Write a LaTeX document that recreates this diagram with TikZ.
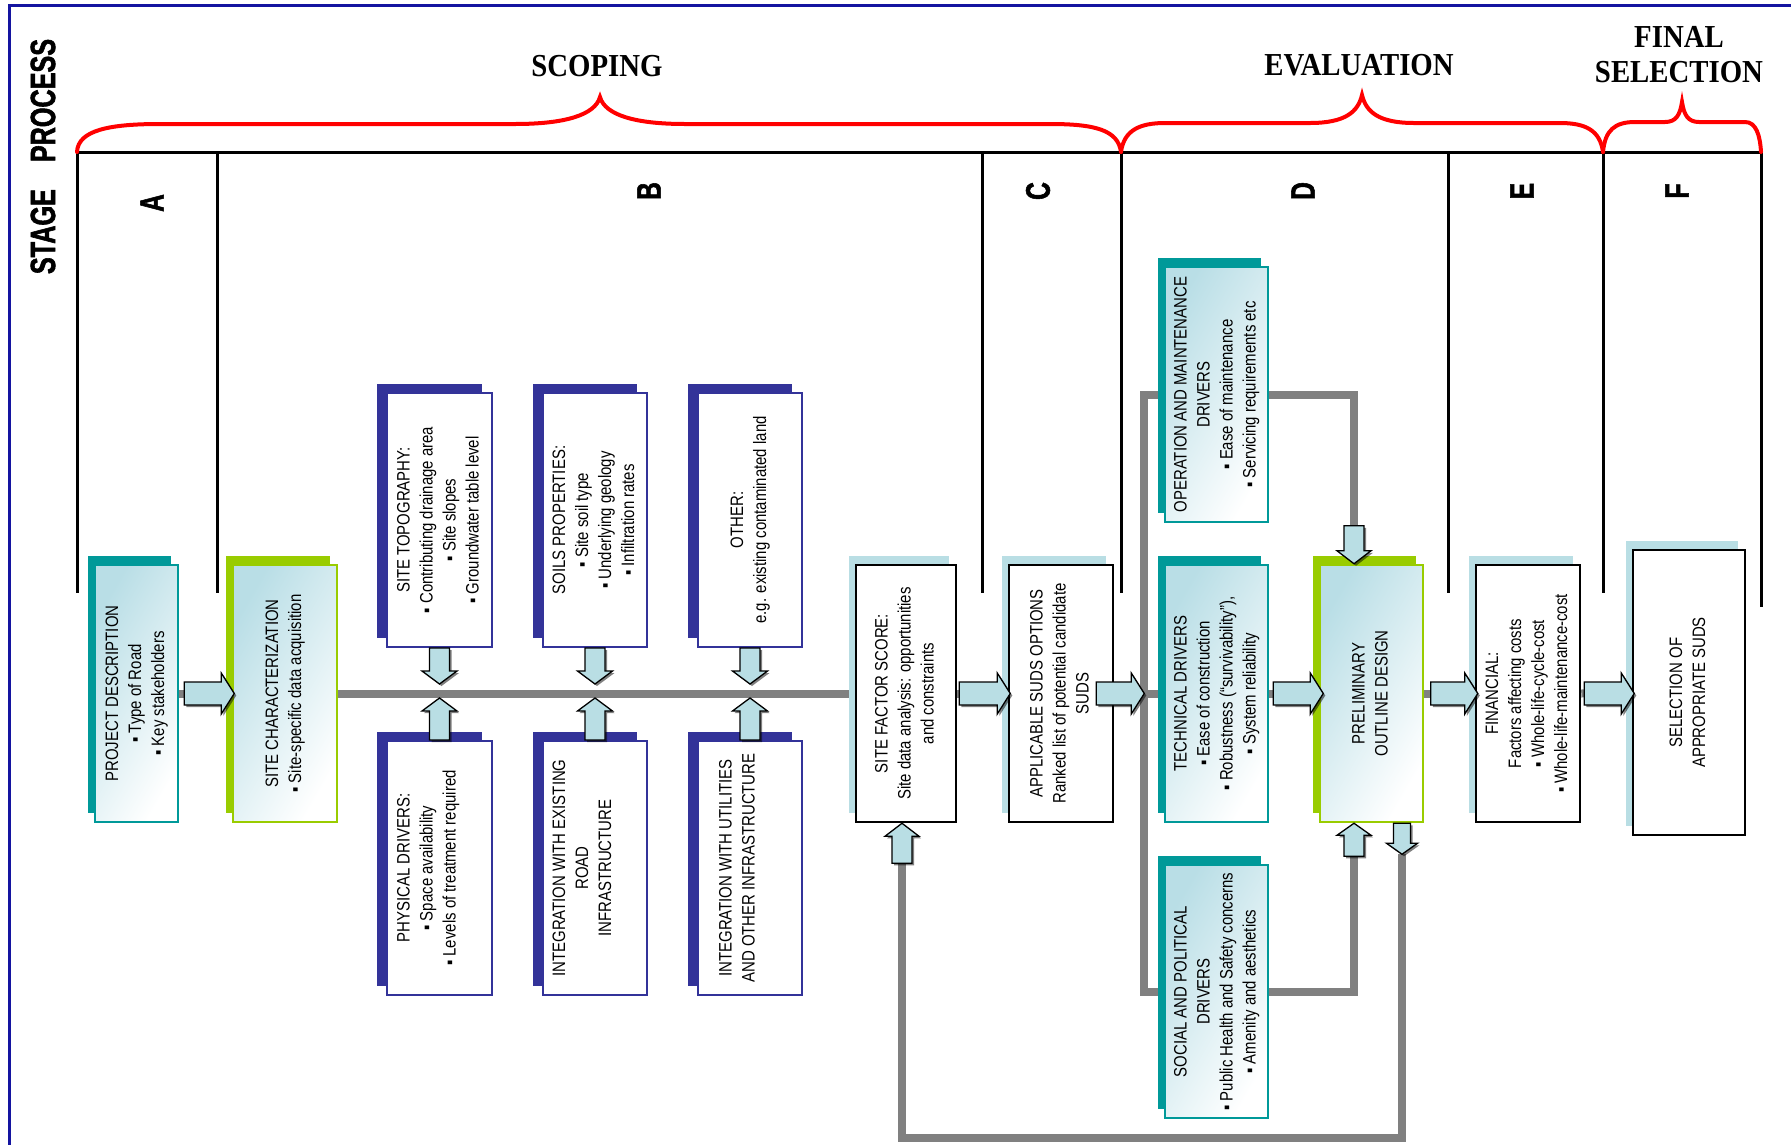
\documentclass[tikz,border=0pt]{standalone}
\usepackage{fontspec}
\usepackage{graphicx}
\usetikzlibrary{shadows,backgrounds,calc}
\newfontfamily\boxfont[FakeStretch=0.83]{Liberation Sans}
\newfontfamily\headfont[FakeStretch=0.72,FakeBold=1.6]{Liberation Sans}
\newfontfamily\titlefont[FakeStretch=0.9]{Liberation Serif}
\definecolor{tealc}{RGB}{0,153,153}
\definecolor{greenc}{RGB}{153,204,0}
\definecolor{bluec}{RGB}{51,51,153}
\definecolor{lightc}{RGB}{185,222,228}
\definecolor{gradc}{RGB}{185,222,230}
\definecolor{grayc}{RGB}{128,128,128}
\definecolor{framec}{RGB}{20,20,160}
\definecolor{redc}{RGB}{255,0,0}
\newcommand\rottext[1]{\rotatebox{90}{\begin{tabular}{@{}c@{}}#1\end{tabular}}}
\begin{document}
\begin{tikzpicture}[x=1pt,y=-1pt,
  box/.style={inner sep=0pt, font=\boxfont\fontsize{18}{23}\selectfont, text=black},
  boxT/.style={box, draw=tealc, line width=2.5pt, top color=gradc, bottom color=white, shading angle=60,
    general shadow={fill=tealc, shadow xshift=-7pt, shadow yshift=9pt}},
  boxG/.style={box, draw=greenc, line width=2.5pt, top color=gradc, bottom color=white, shading angle=60,
    general shadow={fill=greenc, shadow xshift=-7pt, shadow yshift=9pt}},
  boxU/.style={box, draw=bluec, line width=2pt, fill=white,
    general shadow={fill=bluec, shadow xshift=-10pt, shadow yshift=9pt}},
  boxL/.style={box, draw=black, line width=2.5pt, fill=white,
    general shadow={fill=lightc, shadow xshift=-7pt, shadow yshift=9pt}},
  conn/.style={draw=grayc, line width=8pt},
  fatsty/.style={fill=lightc, draw=black, line width=1.3pt,
    drop shadow={shadow xshift=2pt, shadow yshift=-2pt, fill=black, opacity=0.5}},
  tableline/.style={line width=3pt, draw=black},
  bracesty/.style={draw=redc, line width=4pt, line cap=round},
  title/.style={font=\titlefont\bfseries\fontsize{32}{35}\selectfont, align=center, inner sep=0pt},
  colletter/.style={font=\headfont\bfseries\fontsize{34}{34}\selectfont, rotate=90, inner sep=0pt},
  stagesty/.style={font=\headfont\bfseries\fontsize{35}{35}\selectfont, rotate=90, inner sep=0pt},
  pics/fatarr/.style n args={4}{code={%
    \path[fatsty] (0,-#2) -- ({#1-#4},-#2) -- ({#1-#4},-#3) -- (#1,0) -- ({#1-#4},#3) -- ({#1-#4},#2) -- (0,#2) -- cycle;}}
]
\useasboundingbox (0,0) rectangle (1791,1144);
% frame
\draw[framec, line width=3pt] (9,1150) -- (9,5) -- (1800,5);
% table
\draw[tableline] (77,152) -- (1761,152);
\foreach \x in {77,217,982,1121,1448,1603} \draw[tableline] (\x,152) -- (\x,593);
\draw[tableline] (1761,152) -- (1761,607);
% braces
\draw[bracesty] (77,152) .. controls (78,130) and (110,124) .. (160,124) -- (515,124) .. controls (565,124) and (595,115) .. (600,97) .. controls (605,115) and (635,124) .. (685,124) -- (1050,124) .. controls (1095,124) and (1118,130) .. (1121,152);
\draw[bracesty] (1121,152) .. controls (1124,130) and (1140,123) .. (1165,123) -- (1310,123) .. controls (1345,123) and (1358,112) .. (1362,95) .. controls (1366,112) and (1379,123) .. (1414,123) -- (1560,123) .. controls (1585,123) and (1600,130) .. (1603,152);
\draw[bracesty] (1603,152) .. controls (1605,130) and (1615,122) .. (1635,122) -- (1665,122) .. controls (1676,122) and (1680,115) .. (1682,102) .. controls (1684,115) and (1688,122) .. (1699,122) -- (1745,122) .. controls (1756,122) and (1760,135) .. (1761,152);
% titles
\node[title] (scoping) at (597,66) {SCOPING};
\node[title] (evaluation) at (1359,65.5) {EVALUATION};
\node[title] (finalsel) at (1679,54.5) {FINAL\\SELECTION};
\node[stagesty] (stage) at (43,156.5) {STAGE\hspace{27pt}PROCESS};
\node[colletter] (lA) at (152,203) {A};
\node[colletter] (lB) at (649,191) {B};
\node[colletter] (lC) at (1038,191) {C};
\node[colletter] (lD) at (1303,191) {D};
\node[colletter] (lE) at (1522,191) {E};
\node[colletter] (lF) at (1677,191) {F};
% boxes
\node[boxT, minimum width=83, minimum height=257] (A) at (136.5,693.5)
  {\rottext{PROJECT DESCRIPTION\\▪ Type of Road\\▪ Key stakeholders}};
\node[boxG, minimum width=104, minimum height=257] (B1) at (285,693.5)
  {\rottext{SITE CHARACTERIZATION\\▪ Site-specific data acquisition}};
\node[boxU, minimum width=105, minimum height=254] (TOPO) at (439.5,520)
  {\rottext{SITE TOPOGRAPHY:\\▪ Contributing drainage area\\▪ Site slopes\\▪ Groundwater table level}};
\node[boxU, minimum width=104, minimum height=254] (SOILS) at (595,520)
  {\rottext{SOILS PROPERTIES:\\▪ Site soil type\\▪ Underlying geology\\▪ Infiltration rates}};
\node[boxU, minimum width=104, minimum height=254] (OTHER) at (750,520)
  {\rottext{OTHER:\\e.g. existing contaminated land}};
\node[boxU, minimum width=105, minimum height=254] (PHYS) at (439.5,868)
  {\rottext{PHYSICAL DRIVERS:\\▪ Space availability\\▪ Levels of treatment required\\~}};
\node[boxU, minimum width=104, minimum height=254] (INTROAD) at (595,868)
  {\rottext{INTEGRATION WITH EXISTING\\ROAD\\INFRASTRUCTURE\\~}};
\node[boxU, minimum width=104, minimum height=254] (INTUTIL) at (750,868)
  {\rottext{INTEGRATION WITH UTILITIES\\AND OTHER INFRASTRUCTURE\\~}};
\node[boxL, minimum width=100, minimum height=257] (SFS) at (906,693.5)
  {\rottext{SITE FACTOR SCORE:\\Site data analysis: opportunities\\and constraints}};
\node[boxL, minimum width=104, minimum height=257] (APP) at (1061,693.5)
  {\rottext{APPLICABLE SUDS OPTIONS\\Ranked list of potential candidate\\SUDS}};
\node[boxT, minimum width=103, minimum height=255] (OPER) at (1216.5,394.5)
  {\rottext{OPERATION AND MAINTENANCE\\DRIVERS\\▪ Ease of maintenance\\▪ Servicing requirements etc}};
\node[boxT, minimum width=103, minimum height=257] (TECH) at (1216.5,693.5)
  {\rottext{TECHNICAL DRIVERS\\▪ Ease of construction\\▪ Robustness (“survivability”),\\▪ System reliability}};
\node[boxT, minimum width=103, minimum height=253] (SOCIAL) at (1216.5,991.5)
  {\rottext{SOCIAL AND POLITICAL\\DRIVERS\\▪ Public Health and Safety concerns\\▪ Amenity and aesthetics}};
\node[boxG, minimum width=103, minimum height=257] (PRELIM) at (1371.5,693.5)
  {\rottext{PRELIMINARY\\OUTLINE DESIGN}};
\node[boxL, minimum width=104, minimum height=257] (FIN) at (1528,693.5)
  {\rottext{FINANCIAL:\\Factors affecting costs\\▪ Whole-life-cycle-cost\\▪ Whole-life-maintenance-cost}};
\node[boxL, minimum width=112, minimum height=285] (SEL) at (1689,692.5)
  {\rottext{SELECTION OF\\APPROPRIATE SUDS}};
% helper coordinates
\coordinate (dsplit) at (1144,693.5);
\coordinate (pintop) at ($(PRELIM.north)+(-17.5,-38)$);
\coordinate (pinbot) at ($(PRELIM.south)+(-17.5,33)$);
\coordinate (pout) at ($(PRELIM.south)+(30.5,0)$);
\coordinate (poutend) at ($(pout)+(0,31)$);
\coordinate (sfsin) at ($(SFS.south)+(-4,40)$);
\coordinate (loopy) at (0,1138);
% connectors behind
\begin{scope}[on background layer]
  \draw[conn] (A.east) -- (B1.west);
  \draw[conn] (B1.east) -- (SFS.west);
  \draw[conn] (SFS.east) -- (APP.west);
  \draw[conn] (APP.east) -- (TECH.west);
  \draw[conn] (OPER.west) -- (OPER.west -| dsplit) -- (SOCIAL.west -| dsplit) -- (SOCIAL.west);
  \draw[conn] (TECH.east) -- (PRELIM.west);
  \draw[conn] (PRELIM.east) -- (FIN.west);
  \draw[conn] (FIN.east) -- (SEL.west);
  \draw[conn] (OPER.east) -| (pintop);
  \draw[conn] (SOCIAL.east) -| (pinbot);
  \draw[conn] (poutend) |- (sfsin |- loopy) -- (sfsin);
\end{scope}
% fat arrows
\foreach \b in {TOPO,SOILS,OTHER} \pic[rotate=-90] at (\b.south) {fatarr={36}{10}{17.5}{13}};
\foreach \b in {PHYS,INTROAD,INTUTIL} \pic[rotate=90] at (\b.north) {fatarr={42}{10}{17.5}{13}};
\pic at ([xshift=5]A.east) {fatarr={50}{11.5}{20.5}{13}};
\pic at ([xshift=2]SFS.east) {fatarr={51}{11.5}{20.5}{13}};
\pic at ([xshift=-18]APP.east) {fatarr={48}{11.5}{20.5}{13}};
\pic at ([xshift=4]TECH.east) {fatarr={50}{11.5}{20.5}{13}};
\pic at ([xshift=6.5]PRELIM.east) {fatarr={47}{11.5}{20.5}{13}};
\pic at ([xshift=3]FIN.east) {fatarr={50}{11.5}{20.5}{13}};
\pic[rotate=-90] at (pintop) {fatarr={38}{10}{17}{13}};
\pic[rotate=90] at (pinbot) {fatarr={33}{10}{17}{12}};
\pic[rotate=-90] at (pout) {fatarr={31}{8.5}{15.5}{11}};
\pic[rotate=90] at (sfsin) {fatarr={40}{10}{17}{13}};
\end{tikzpicture}
\end{document}
